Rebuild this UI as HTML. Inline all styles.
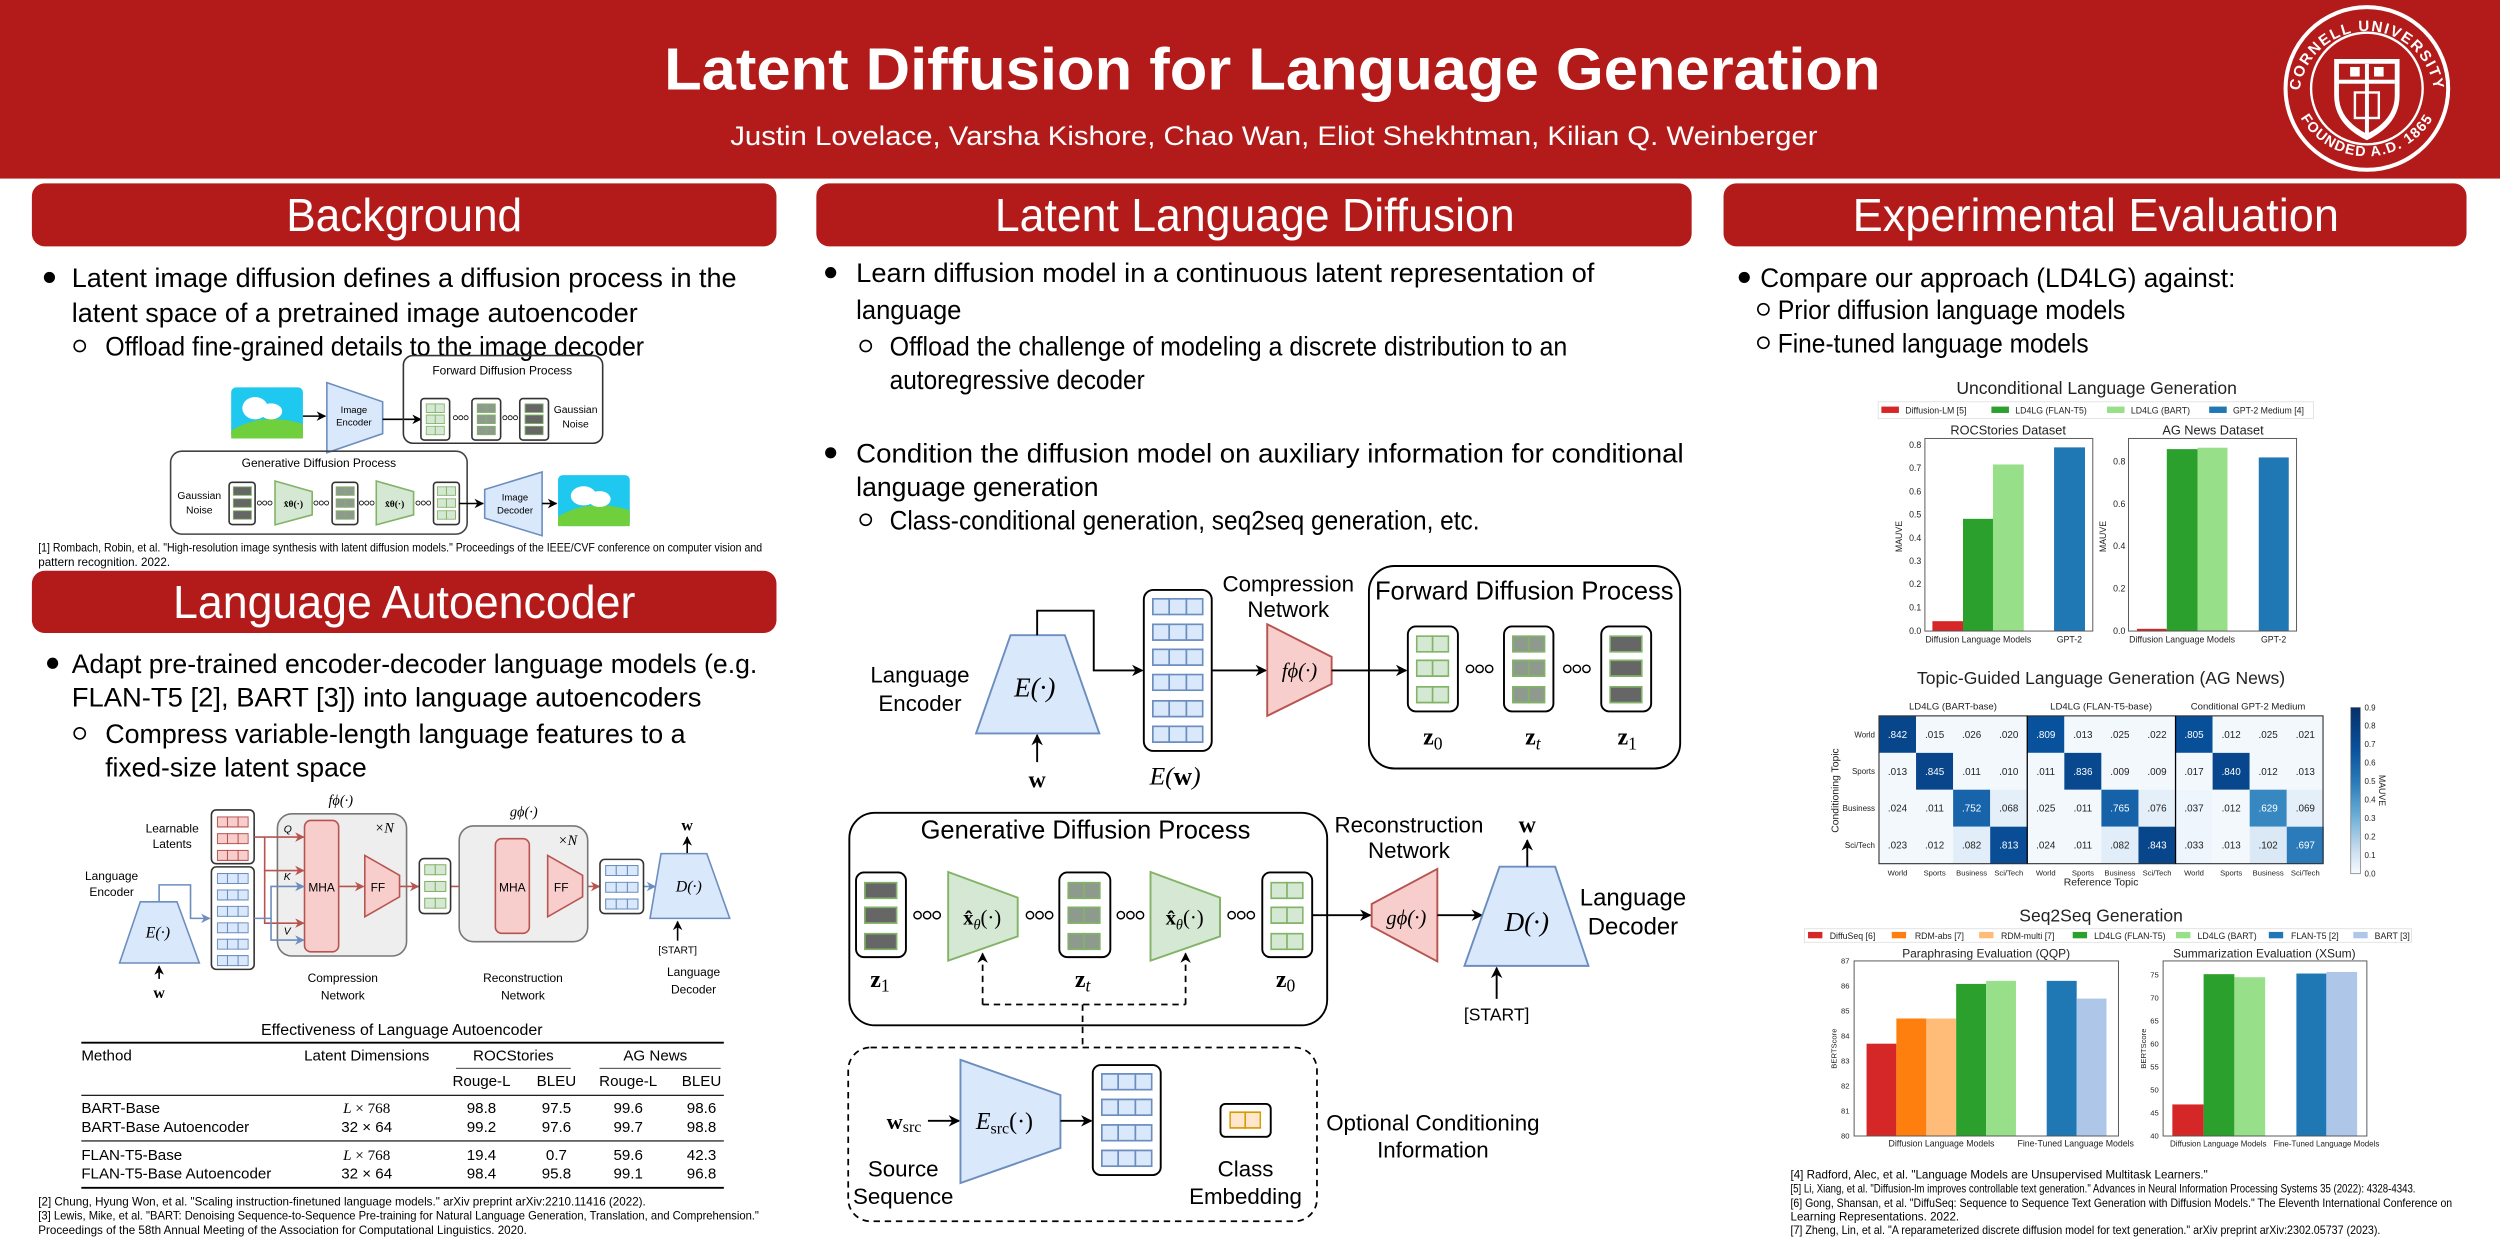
<!DOCTYPE html>
<html><head><meta charset="utf-8"><style>
html,body{margin:0;padding:0;background:#fff;}
svg{display:block;}
text{font-family:"Liberation Sans",sans-serif;}
.m{font-family:"Liberation Serif",serif;font-style:italic;}
.b{font-family:"Liberation Serif",serif;font-weight:bold;}
.t{font-family:"Liberation Serif",serif;}
</style></head><body>
<svg width="2500" height="1250" viewBox="0 0 1568 784" preserveAspectRatio="none" xmlns="http://www.w3.org/2000/svg">
<defs>
<marker id="ah" viewBox="0 0 10 10" refX="9" refY="5" markerWidth="6" markerHeight="6" orient="auto"><path d="M0,0 L10,5 L0,10 L3,5z" fill="#000"/></marker>
<marker id="ahr" viewBox="0 0 10 10" refX="9" refY="5" markerWidth="6" markerHeight="6" orient="auto"><path d="M0,0 L10,5 L0,10 L3,5z" fill="#b85450"/></marker>
<marker id="ahb" viewBox="0 0 10 10" refX="9" refY="5" markerWidth="6" markerHeight="6" orient="auto"><path d="M0,0 L10,5 L0,10 L3,5z" fill="#6c8ebf"/></marker>
<symbol id="b3" viewBox="0 0 30 10" preserveAspectRatio="none"><rect x="0.5" y="0.5" width="29" height="9" fill="#dae8fc" stroke="#6c8ebf"/><path d="M10,0V10M20,0V10" stroke="#6c8ebf"/></symbol>
<symbol id="r3" viewBox="0 0 30 10" preserveAspectRatio="none"><rect x="0.5" y="0.5" width="29" height="9" fill="#f8cecc" stroke="#b85450"/><path d="M10,0V10M20,0V10" stroke="#b85450"/></symbol>
<symbol id="g2" viewBox="0 0 20 10" preserveAspectRatio="none"><rect x="0.5" y="0.5" width="19" height="9" fill="#d5e8d4" stroke="#82b366"/><path d="M10,0V10" stroke="#82b366"/></symbol>
<symbol id="k2" viewBox="0 0 20 10" preserveAspectRatio="none"><rect x="0.5" y="0.5" width="19" height="9" fill="#8f9a8f" stroke="#82b366"/><path d="M10,0V10" stroke="#82b366"/></symbol>
<symbol id="d1" viewBox="0 0 20 10" preserveAspectRatio="none"><rect x="0.5" y="0.5" width="19" height="9" fill="#666" stroke="#82b366"/></symbol>
<symbol id="o2" viewBox="0 0 20 10" preserveAspectRatio="none"><rect x="0.5" y="0.5" width="19" height="9" fill="#ffe6cc" stroke="#d79b00"/><path d="M10,0V10" stroke="#d79b00"/></symbol>
<symbol id="ooo" viewBox="0 0 18 6"><circle cx="3" cy="3" r="2.3" fill="none" stroke="#000" stroke-width="0.9"/><circle cx="9" cy="3" r="2.3" fill="none" stroke="#000" stroke-width="0.9"/><circle cx="15" cy="3" r="2.3" fill="none" stroke="#000" stroke-width="0.9"/></symbol>
<linearGradient id="cb" x1="0" y1="0" x2="0" y2="1"><stop offset="0" stop-color="#08306b"/><stop offset="0.25" stop-color="#08519c"/><stop offset="0.45" stop-color="#2b7bba"/><stop offset="0.65" stop-color="#6aaed6"/><stop offset="0.85" stop-color="#c6dbef"/><stop offset="1" stop-color="#f7fbff"/></linearGradient>
<path id="arcTop" d="M1442,62 A42.5,42.5 0 0 1 1527,62"/>
<path id="arcBot" d="M1436.5,50 A48,48 0 0 0 1532.5,50"/>
</defs>

<!-- Header -->
<rect x="0" y="0" width="1568" height="112" fill="#B31B1B"/>
<text x="798" y="56" text-anchor="middle" font-size="37" font-weight="bold" fill="#fff" textLength="763" lengthAdjust="spacingAndGlyphs">Latent Diffusion for Language Generation</text>
<text x="799" y="91" text-anchor="middle" font-size="17" fill="#fff" textLength="682" lengthAdjust="spacingAndGlyphs">Justin Lovelace, Varsha Kishore, Chao Wan, Eliot Shekhtman, Kilian Q. Weinberger</text>
<g>
<circle cx="1484.5" cy="55.5" r="51" fill="#B31B1B" stroke="#fff" stroke-width="2.5"/>
<circle cx="1484.5" cy="55.5" r="35" fill="none" stroke="#fff" stroke-width="1.5"/>
<path d="M1464,37 H1505 V60 Q1505,78 1484.5,88 Q1464,78 1464,60Z" fill="#fff"/>
<path d="M1467,40 H1502 V60 Q1502,75 1484.5,84 Q1467,75 1467,60Z" fill="#B31B1B"/>
<rect x="1467" y="50" width="35" height="2.5" fill="#fff"/>
<rect x="1483.3" y="40" width="2.5" height="44" fill="#fff"/>
<rect x="1474" y="42" width="6" height="6" fill="#fff"/><rect x="1489" y="42" width="6" height="6" fill="#fff"/>
<rect x="1477" y="58" width="15" height="16" fill="none" stroke="#fff" stroke-width="1.5"/>
<text font-size="9.5" font-weight="bold" fill="#fff" letter-spacing="1"><textPath href="#arcTop" startOffset="50%" text-anchor="middle">CORNELL UNIVERSITY</textPath></text>
<text font-size="9" font-weight="bold" fill="#fff" letter-spacing="0.8"><textPath href="#arcBot" startOffset="50%" text-anchor="middle">FOUNDED A.D. 1865</textPath></text>
</g>

<!-- Section headers -->
<rect x="20" y="115" width="467" height="39.5" rx="8" fill="#B31B1B"/>
<text x="253.5" y="145" text-anchor="middle" font-size="29" fill="#fff" textLength="148" lengthAdjust="spacingAndGlyphs">Background</text>
<rect x="512" y="115" width="549" height="39.5" rx="8" fill="#B31B1B"/>
<text x="787" y="145" text-anchor="middle" font-size="29" fill="#fff" textLength="326" lengthAdjust="spacingAndGlyphs">Latent Language Diffusion</text>
<rect x="1081" y="115" width="466" height="39.5" rx="8" fill="#B31B1B"/>
<text x="1314.5" y="145" text-anchor="middle" font-size="29" fill="#fff" textLength="305" lengthAdjust="spacingAndGlyphs">Experimental Evaluation</text>
<rect x="20" y="358" width="467" height="39" rx="8" fill="#B31B1B"/>
<text x="253.5" y="387.5" text-anchor="middle" font-size="29" fill="#fff" textLength="290" lengthAdjust="spacingAndGlyphs">Language Autoencoder</text>

<!-- Background text -->
<g font-size="17">
<circle cx="31" cy="174" r="3.5"/>
<text x="45" y="180" textLength="417" lengthAdjust="spacingAndGlyphs">Latent image diffusion defines a diffusion process in the</text>
<text x="45" y="202" textLength="355" lengthAdjust="spacingAndGlyphs">latent space of a pretrained image autoencoder</text>
<circle cx="50" cy="217" r="3.5" fill="none" stroke="#000" stroke-width="1"/>
<text x="66" y="223" textLength="338" lengthAdjust="spacingAndGlyphs">Offload fine-grained details to the image decoder</text>
</g>

<!-- Background diagram -->
<g>
<rect x="145" y="243" width="45" height="32" rx="3" fill="#1ec8ee"/>
<path d="M145,270 Q165,258 190,266 V275 H145Z" fill="#6fcf3c"/>
<ellipse cx="160" cy="256" rx="8" ry="7" fill="#fff"/><ellipse cx="170" cy="258" rx="7" ry="5" fill="#fff"/>
<line x1="190" y1="261" x2="204" y2="261" stroke="#000" marker-end="url(#ah)"/>
<path d="M205,240 L240,252 V272 L205,284Z" fill="#dae8fc" stroke="#6c8ebf"/>
<text x="222" y="259" font-size="6" text-anchor="middle">Image</text><text x="222" y="267" font-size="6" text-anchor="middle">Encoder</text>
<line x1="240" y1="263" x2="264" y2="263" stroke="#000" marker-end="url(#ah)"/>
<rect x="253" y="223" width="125" height="55" rx="6" fill="none" stroke="#333"/>
<text x="315" y="235" font-size="7.5" text-anchor="middle">Forward Diffusion Process</text>
<rect x="264" y="250" width="18" height="26" rx="2" fill="#fff" stroke="#333"/>
<use href="#g2" x="267" y="253" width="12" height="6"/><use href="#g2" x="267" y="260" width="12" height="6"/><use href="#g2" x="267" y="267" width="12" height="6"/>
<use href="#ooo" x="284" y="260" width="10" height="4"/>
<rect x="296" y="250" width="18" height="26" rx="2" fill="#fff" stroke="#333"/>
<use href="#k2" x="299" y="253" width="12" height="6"/><use href="#k2" x="299" y="260" width="12" height="6"/><use href="#k2" x="299" y="267" width="12" height="6"/>
<use href="#ooo" x="315" y="260" width="10" height="4"/>
<rect x="326" y="250" width="18" height="26" rx="2" fill="#fff" stroke="#333"/>
<use href="#d1" x="329" y="253" width="12" height="6"/><use href="#d1" x="329" y="260" width="12" height="6"/><use href="#d1" x="329" y="267" width="12" height="6"/>
<text x="361" y="259" font-size="6.5" text-anchor="middle">Gaussian</text><text x="361" y="268" font-size="6.5" text-anchor="middle">Noise</text>
<rect x="107" y="283" width="186" height="52" rx="7" fill="none" stroke="#444"/>
<text x="200" y="293" font-size="7.5" text-anchor="middle">Generative Diffusion Process</text>
<text x="125" y="313" font-size="6.5" text-anchor="middle">Gaussian</text><text x="125" y="322" font-size="6.5" text-anchor="middle">Noise</text>
<rect x="143.7" y="302.5" width="16.3" height="26.5" rx="2" fill="#fff" stroke="#333"/>
<use href="#d1" x="146" y="305" width="12" height="6"/><use href="#d1" x="146" y="312.5" width="12" height="6"/><use href="#d1" x="146" y="320" width="12" height="6"/>
<use href="#ooo" x="161" y="313.5" width="10" height="4"/>
<path d="M172.5,301.7 L195.8,308.3 V322.9 L172.5,329.2Z" fill="#d5e8d4" stroke="#82b366"/>
<text x="184" y="318" font-size="6" class="b" text-anchor="middle">x̂θ(·)</text>
<use href="#ooo" x="196.5" y="313.5" width="10" height="4"/>
<rect x="208.3" y="302.5" width="16.1" height="26.5" rx="2" fill="#fff" stroke="#333"/>
<use href="#k2" x="210.5" y="305" width="12" height="6"/><use href="#k2" x="210.5" y="312.5" width="12" height="6"/><use href="#k2" x="210.5" y="320" width="12" height="6"/>
<use href="#ooo" x="225" y="313.5" width="10" height="4"/>
<path d="M236,301.7 L259.4,308.3 V322.9 L236,329.2Z" fill="#d5e8d4" stroke="#82b366"/>
<text x="247.5" y="318" font-size="6" class="b" text-anchor="middle">x̂θ(·)</text>
<use href="#ooo" x="260.5" y="313.5" width="10" height="4"/>
<rect x="271.9" y="302.5" width="16.2" height="26.5" rx="2" fill="#fff" stroke="#333"/>
<use href="#g2" x="274" y="305" width="12" height="6"/><use href="#g2" x="274" y="312.5" width="12" height="6"/><use href="#g2" x="274" y="320" width="12" height="6"/>
<line x1="288" y1="315.8" x2="303" y2="315.8" stroke="#000" marker-end="url(#ah)"/>
<path d="M304,307 L340,296 V336 L304,325Z" fill="#dae8fc" stroke="#6c8ebf"/>
<text x="323" y="314" font-size="6" text-anchor="middle">Image</text><text x="323" y="322" font-size="6" text-anchor="middle">Decoder</text>
<line x1="340" y1="315.8" x2="349" y2="315.8" stroke="#000" marker-end="url(#ah)"/>
<rect x="350" y="298" width="45" height="32" rx="3" fill="#1ec8ee"/>
<path d="M350,324 Q370,312 395,320 V330 H350Z" fill="#6fcf3c"/>
<ellipse cx="366" cy="311" rx="8" ry="6" fill="#fff"/><ellipse cx="376" cy="313" rx="7" ry="5" fill="#fff"/>
</g>
<g font-size="7.3">
<text x="24" y="346" textLength="454" lengthAdjust="spacingAndGlyphs">[1] Rombach, Robin, et al. "High-resolution image synthesis with latent diffusion models." Proceedings of the IEEE/CVF conference on computer vision and</text>
<text x="24" y="355">pattern recognition. 2022.</text>
</g>

<!-- Language Autoencoder text -->
<g font-size="17">
<circle cx="33" cy="416" r="3.5"/>
<text x="45" y="422" textLength="430" lengthAdjust="spacingAndGlyphs">Adapt pre-trained encoder-decoder language models (e.g.</text>
<text x="45" y="443" textLength="395" lengthAdjust="spacingAndGlyphs">FLAN-T5 [2], BART [3]) into language autoencoders</text>
<circle cx="50" cy="460" r="3.5" fill="none" stroke="#000" stroke-width="1"/>
<text x="66" y="466" textLength="364" lengthAdjust="spacingAndGlyphs">Compress variable-length language features to a</text>
<text x="66" y="487" textLength="164" lengthAdjust="spacingAndGlyphs">fixed-size latent space</text>
</g>

<!-- LA diagram -->
<g font-size="7.5">
<text x="213.7" y="505" class="m" font-size="9" text-anchor="middle">fϕ(·)</text>
<text x="108" y="522" text-anchor="middle">Learnable</text><text x="108" y="532" text-anchor="middle">Latents</text>
<text x="70" y="552" text-anchor="middle">Language</text><text x="70" y="562" text-anchor="middle">Encoder</text>
<rect x="174" y="510.4" width="81" height="89.2" rx="9" fill="#eee" stroke="#777"/>
<text x="241" y="522" class="m" font-size="9" text-anchor="middle">×N</text>
<rect x="191" y="514.6" width="21.4" height="82.4" rx="4" fill="#f8cecc" stroke="#b85450"/>
<text x="201.7" y="559" text-anchor="middle" font-size="7.5">MHA</text>
<path d="M228.8,536.5 L250.6,549 V562.5 L228.8,575Z" fill="#f8cecc" stroke="#b85450"/>
<text x="237" y="559" text-anchor="middle">FF</text>
<rect x="132.6" y="508" width="26.8" height="33.7" rx="3" fill="#fff" stroke="#333"/>
<use href="#r3" x="136" y="512" width="20" height="7"/><use href="#r3" x="136" y="522.5" width="20" height="7"/><use href="#r3" x="136" y="533" width="20" height="7"/>
<rect x="132.6" y="543.7" width="26.8" height="64.3" rx="3" fill="#fff" stroke="#333"/>
<use href="#b3" x="136" y="547.5" width="20" height="7"/><use href="#b3" x="136" y="557.8" width="20" height="7"/><use href="#b3" x="136" y="568.1" width="20" height="7"/><use href="#b3" x="136" y="578.4" width="20" height="7"/><use href="#b3" x="136" y="588.7" width="20" height="7"/><use href="#b3" x="136" y="599" width="20" height="7"/>
<path d="M88,565.6 L111,565.6 L125,604 L75,604Z" fill="#dae8fc" stroke="#6c8ebf"/>
<text x="99" y="588" class="m" font-size="10" text-anchor="middle">E(·)</text>
<line x1="99.8" y1="614" x2="99.8" y2="606" stroke="#000" marker-end="url(#ah)"/>
<text x="99.8" y="626" class="b" font-size="10" text-anchor="middle">w</text>
<polyline points="99.8,565.6 99.8,555 119.5,555 119.5,576 131.5,576" fill="none" stroke="#6c8ebf" marker-end="url(#ahb)"/>
<g stroke="#b85450" fill="none">
<line x1="159.4" y1="525" x2="190.5" y2="525" marker-end="url(#ahr)"/>
<polyline points="166,525 166,546 190.5,546" marker-end="url(#ahr)"/>
<polyline points="166,546 166,579 190.5,579" marker-end="url(#ahr)"/>
<line x1="212.4" y1="556" x2="228" y2="556" marker-end="url(#ahr)"/>
<line x1="250.6" y1="556" x2="262.5" y2="556" marker-end="url(#ahr)"/>
<line x1="282.6" y1="556" x2="310" y2="556" marker-end="url(#ahr)"/>
<polyline points="300,556 300,541 310,541" marker-end="url(#ahr)"/>
<polyline points="300,556 300,572 310,572" marker-end="url(#ahr)"/>
<line x1="332" y1="556" x2="343" y2="556" marker-end="url(#ahr)"/>
<line x1="365.4" y1="556" x2="376" y2="556" marker-end="url(#ahr)"/>
</g>
<g stroke="#6c8ebf" fill="none">
<polyline points="159.4,576 170,576 170,556 190.5,556" marker-end="url(#ahb)"/>
<polyline points="170,576 170,589.6 190.5,589.6" marker-end="url(#ahb)"/>
<line x1="403.6" y1="556" x2="411" y2="556" marker-end="url(#ahb)"/>
</g>
<g class="m" font-size="6.5"><text x="178" y="522">Q</text><text x="178" y="552">K</text><text x="178" y="586">V</text><text x="296" y="537">Q</text><text x="296" y="552">K</text><text x="296" y="568">V</text></g>
<rect x="263" y="538.5" width="19.6" height="34.5" rx="3" fill="#fff" stroke="#333"/>
<use href="#g2" x="266" y="542" width="14" height="7"/><use href="#g2" x="266" y="552.5" width="14" height="7"/><use href="#g2" x="266" y="563" width="14" height="7"/>
<text x="328.5" y="512" class="m" font-size="9" text-anchor="middle">gϕ(·)</text>
<rect x="288" y="518" width="80.6" height="72.6" rx="9" fill="#eee" stroke="#777"/>
<text x="356" y="530" class="m" font-size="9" text-anchor="middle">×N</text>
<rect x="310.7" y="526" width="21.3" height="59.4" rx="4" fill="#f8cecc" stroke="#b85450"/>
<text x="321.3" y="559" text-anchor="middle">MHA</text>
<path d="M343.5,536.5 L365.4,549 V562.5 L343.5,575Z" fill="#f8cecc" stroke="#b85450"/>
<text x="352" y="559" text-anchor="middle">FF</text>
<rect x="376.3" y="539" width="27.3" height="34" rx="3" fill="#fff" stroke="#333"/>
<use href="#b3" x="379.5" y="542.5" width="21" height="7"/><use href="#b3" x="379.5" y="553" width="21" height="7"/><use href="#b3" x="379.5" y="563.5" width="21" height="7"/>
<path d="M414.6,535.4 L443.3,535.4 L457.7,576 L407.7,576Z" fill="#dae8fc" stroke="#6c8ebf"/>
<text x="432" y="559" class="m" font-size="10" text-anchor="middle">D(·)</text>
<line x1="431" y1="535" x2="431" y2="525" stroke="#000" marker-end="url(#ah)"/>
<text x="431" y="521" class="b" font-size="10" text-anchor="middle">w</text>
<line x1="425" y1="590" x2="425" y2="578" stroke="#000" marker-end="url(#ah)"/>
<text x="425" y="598" font-size="6.5" text-anchor="middle">[START]</text>
<text x="215" y="616" text-anchor="middle">Compression</text><text x="215" y="627" text-anchor="middle">Network</text>
<text x="328" y="616" text-anchor="middle">Reconstruction</text><text x="328" y="627" text-anchor="middle">Network</text>
<text x="435" y="612" text-anchor="middle">Language</text><text x="435" y="623" text-anchor="middle">Decoder</text>
</g>

<!-- Table -->
<g class="t" font-size="9.5">
<text x="252" y="649" text-anchor="middle" font-size="10">Effectiveness of Language Autoencoder</text>
<line x1="51" y1="654" x2="454" y2="654" stroke="#000" stroke-width="1.2"/>
<text x="51" y="665">Method</text>
<text x="230" y="665" text-anchor="middle">Latent Dimensions</text>
<text x="322" y="665" text-anchor="middle">ROCStories</text>
<text x="411" y="665" text-anchor="middle">AG News</text>
<line x1="286" y1="670" x2="358" y2="670" stroke="#000" stroke-width="0.5"/>
<line x1="376" y1="670" x2="452" y2="670" stroke="#000" stroke-width="0.5"/>
<text x="302" y="681" text-anchor="middle">Rouge-L</text><text x="349" y="681" text-anchor="middle">BLEU</text>
<text x="394" y="681" text-anchor="middle">Rouge-L</text><text x="440" y="681" text-anchor="middle">BLEU</text>
<line x1="51" y1="687" x2="454" y2="687" stroke="#000" stroke-width="0.7"/>
<text x="51" y="698">BART-Base</text><text x="230" y="698" text-anchor="middle" class="m">L<tspan class="t" font-style="normal"> × 768</tspan></text>
<text x="302" y="698" text-anchor="middle">98.8</text><text x="349" y="698" text-anchor="middle">97.5</text><text x="394" y="698" text-anchor="middle">99.6</text><text x="440" y="698" text-anchor="middle">98.6</text>
<text x="51" y="710">BART-Base Autoencoder</text><text x="230" y="710" text-anchor="middle">32 × 64</text>
<text x="302" y="710" text-anchor="middle">99.2</text><text x="349" y="710" text-anchor="middle">97.6</text><text x="394" y="710" text-anchor="middle">99.7</text><text x="440" y="710" text-anchor="middle">98.8</text>
<line x1="51" y1="715.6" x2="454" y2="715.6" stroke="#000" stroke-width="0.7"/>
<text x="51" y="727.5">FLAN-T5-Base</text><text x="230" y="727.5" text-anchor="middle" class="m">L<tspan class="t" font-style="normal"> × 768</tspan></text>
<text x="302" y="727.5" text-anchor="middle">19.4</text><text x="349" y="727.5" text-anchor="middle">0.7</text><text x="394" y="727.5" text-anchor="middle">59.6</text><text x="440" y="727.5" text-anchor="middle">42.3</text>
<text x="51" y="739">FLAN-T5-Base Autoencoder</text><text x="230" y="739" text-anchor="middle">32 × 64</text>
<text x="302" y="739" text-anchor="middle">98.4</text><text x="349" y="739" text-anchor="middle">95.8</text><text x="394" y="739" text-anchor="middle">99.1</text><text x="440" y="739" text-anchor="middle">96.8</text>
<line x1="51" y1="745" x2="454" y2="745" stroke="#000" stroke-width="1.2"/>
</g>
<g font-size="7.3">
<text x="24" y="756">[2] Chung, Hyung Won, et al. "Scaling instruction-finetuned language models." arXiv preprint arXiv:2210.11416 (2022).</text>
<text x="24" y="765" textLength="452" lengthAdjust="spacingAndGlyphs">[3] Lewis, Mike, et al. "BART: Denoising Sequence-to-Sequence Pre-training for Natural Language Generation, Translation, and Comprehension."</text>
<text x="24" y="774">Proceedings of the 58th Annual Meeting of the Association for Computational Linguistics. 2020.</text>
</g>

<!-- Middle text -->
<g font-size="17">
<circle cx="521" cy="171" r="3.5"/>
<text x="537" y="177" textLength="463" lengthAdjust="spacingAndGlyphs">Learn diffusion model in a continuous latent representation of</text>
<text x="537" y="200" textLength="66" lengthAdjust="spacingAndGlyphs">language</text>
<circle cx="543" cy="217" r="3.5" fill="none" stroke="#000" stroke-width="1"/>
<text x="558" y="223" textLength="425" lengthAdjust="spacingAndGlyphs">Offload the challenge of modeling a discrete distribution to an</text>
<text x="558" y="244" textLength="160" lengthAdjust="spacingAndGlyphs">autoregressive decoder</text>
<circle cx="521" cy="284" r="3.5"/>
<text x="537" y="290" textLength="519" lengthAdjust="spacingAndGlyphs">Condition the diffusion model on auxiliary information for conditional</text>
<text x="537" y="311" textLength="152" lengthAdjust="spacingAndGlyphs">language generation</text>
<circle cx="543" cy="326" r="3.5" fill="none" stroke="#000" stroke-width="1"/>
<text x="558" y="332" textLength="370" lengthAdjust="spacingAndGlyphs">Class-conditional generation, seq2seq generation, etc.</text>
</g>

<!-- Middle diagram -->
<g font-size="14">
<text x="577" y="428" text-anchor="middle">Language</text><text x="577" y="446" text-anchor="middle">Encoder</text>
<path d="M633.8,398.4 L667.9,398.4 L689.5,460 L612.2,460Z" fill="#dae8fc" stroke="#6c8ebf" stroke-width="1.2"/>
<text x="649" y="437" class="m" font-size="17" text-anchor="middle">E(·)</text>
<line x1="650.5" y1="478" x2="650.5" y2="461" stroke="#000" stroke-width="1.2" marker-end="url(#ah)"/>
<text x="650.5" y="494" class="b" font-size="15" text-anchor="middle">w</text>
<polyline points="650.5,398.4 650.5,383 686,383 686,420.5 716.5,420.5" fill="none" stroke="#000" stroke-width="1.2" marker-end="url(#ah)"/>
<rect x="717.4" y="370" width="42.6" height="101" rx="6" fill="#fff" stroke="#000" stroke-width="1.2"/>
<use href="#b3" x="722.5" y="375" width="32.4" height="11"/><use href="#b3" x="722.5" y="391" width="32.4" height="11"/><use href="#b3" x="722.5" y="406.7" width="32.4" height="11"/><use href="#b3" x="722.5" y="422.5" width="32.4" height="11"/><use href="#b3" x="722.5" y="439" width="32.4" height="11"/><use href="#b3" x="722.5" y="455" width="32.4" height="11"/>
<text x="737" y="492" class="m" font-size="16" text-anchor="middle">E(<tspan class="b" font-style="normal">w</tspan>)</text>
<line x1="760" y1="420.5" x2="794" y2="420.5" stroke="#000" stroke-width="1.2" marker-end="url(#ah)"/>
<text x="808" y="371" text-anchor="middle">Compression</text><text x="808" y="387" text-anchor="middle">Network</text>
<path d="M794.8,391.5 L835.2,412 V429 L794.8,449Z" fill="#f8cecc" stroke="#b85450" stroke-width="1.2"/>
<text x="815" y="425" class="m" font-size="13" text-anchor="middle">fϕ(·)</text>
<line x1="835.2" y1="420.5" x2="882" y2="420.5" stroke="#000" stroke-width="1.2" marker-end="url(#ah)"/>
<rect x="858.6" y="355" width="195.2" height="127" rx="16" fill="none" stroke="#000" stroke-width="1.2"/>
<text x="956" y="376" text-anchor="middle" font-size="16">Forward Diffusion Process</text>
<rect x="883" y="392.9" width="31.4" height="53.3" rx="5" fill="#fff" stroke="#000" stroke-width="1.2"/>
<use href="#g2" x="888" y="398.4" width="21" height="11"/><use href="#g2" x="888" y="413.6" width="21" height="11"/><use href="#g2" x="888" y="430.2" width="21" height="11"/>
<use href="#ooo" x="919" y="416.5" width="18" height="6"/>
<rect x="943.3" y="392.9" width="31" height="53.3" rx="5" fill="#fff" stroke="#000" stroke-width="1.2"/>
<use href="#k2" x="948.3" y="398.4" width="21" height="11"/><use href="#k2" x="948.3" y="413.6" width="21" height="11"/><use href="#k2" x="948.3" y="430.2" width="21" height="11"/>
<use href="#ooo" x="980" y="416.5" width="18" height="6"/>
<rect x="1004.3" y="392.9" width="31.3" height="53.3" rx="5" fill="#fff" stroke="#000" stroke-width="1.2"/>
<use href="#d1" x="1009.3" y="398.4" width="21" height="11"/><use href="#d1" x="1009.3" y="413.6" width="21" height="11"/><use href="#d1" x="1009.3" y="430.2" width="21" height="11"/>
<text x="898.7" y="467" class="b" font-size="15" text-anchor="middle">z<tspan class="t" font-weight="normal" font-size="11" dy="3">0</tspan></text>
<text x="961.4" y="467" class="b" font-size="15" text-anchor="middle">z<tspan class="m" font-weight="normal" font-size="11" dy="3">t</tspan></text>
<text x="1020.6" y="467" class="b" font-size="15" text-anchor="middle">z<tspan class="t" font-weight="normal" font-size="11" dy="3">1</tspan></text>

<rect x="532.7" y="509.8" width="299.7" height="133.3" rx="16" fill="none" stroke="#000" stroke-width="1.2"/>
<text x="680.8" y="526" text-anchor="middle" font-size="16">Generative Diffusion Process</text>
<rect x="536.9" y="547.2" width="31.3" height="53.1" rx="5" fill="#fff" stroke="#000" stroke-width="1.2"/>
<use href="#d1" x="541.9" y="553" width="21" height="11"/><use href="#d1" x="541.9" y="568.5" width="21" height="11"/><use href="#d1" x="541.9" y="585" width="21" height="11"/>
<use href="#ooo" x="572.5" y="571" width="18" height="6"/>
<path d="M594.7,546.9 L638.3,563 V587.3 L594.7,602.5Z" fill="#d5e8d4" stroke="#82b366" stroke-width="1.2"/>
<text x="616" y="580" class="b" font-size="13" text-anchor="middle">x̂<tspan class="m" font-weight="normal" font-size="9" dy="3">θ</tspan><tspan class="t" font-weight="normal" dy="-3">(·)</tspan></text>
<use href="#ooo" x="643" y="571" width="18" height="6"/>
<rect x="664.4" y="547.2" width="32" height="53.1" rx="5" fill="#fff" stroke="#000" stroke-width="1.2"/>
<use href="#k2" x="669.4" y="553" width="21" height="11"/><use href="#k2" x="669.4" y="568.5" width="21" height="11"/><use href="#k2" x="669.4" y="585" width="21" height="11"/>
<use href="#ooo" x="700" y="571" width="18" height="6"/>
<path d="M721.6,546.9 L765.2,563 V587.3 L721.6,602.5Z" fill="#d5e8d4" stroke="#82b366" stroke-width="1.2"/>
<text x="743" y="580" class="b" font-size="13" text-anchor="middle">x̂<tspan class="m" font-weight="normal" font-size="9" dy="3">θ</tspan><tspan class="t" font-weight="normal" dy="-3">(·)</tspan></text>
<use href="#ooo" x="769.5" y="571" width="18" height="6"/>
<rect x="791.7" y="547.2" width="31.3" height="53.1" rx="5" fill="#fff" stroke="#000" stroke-width="1.2"/>
<use href="#g2" x="796.7" y="553" width="21" height="11"/><use href="#g2" x="796.7" y="568.5" width="21" height="11"/><use href="#g2" x="796.7" y="585" width="21" height="11"/>
<text x="551.9" y="619" class="b" font-size="15" text-anchor="middle">z<tspan class="t" font-weight="normal" font-size="11" dy="3">1</tspan></text>
<text x="679" y="619" class="b" font-size="15" text-anchor="middle">z<tspan class="m" font-weight="normal" font-size="11" dy="3">t</tspan></text>
<text x="806.3" y="619" class="b" font-size="15" text-anchor="middle">z<tspan class="t" font-weight="normal" font-size="11" dy="3">0</tspan></text>
<g stroke="#000" stroke-width="1.1" fill="none" stroke-dasharray="4,3">
<polyline points="616.3,630 616.3,598" marker-end="url(#ah)"/>
<polyline points="743.6,630 743.6,598" marker-end="url(#ah)"/>
<line x1="616.3" y1="630" x2="743.6" y2="630"/>
<line x1="679" y1="630" x2="679" y2="657"/>
</g>
<line x1="823" y1="574" x2="859.5" y2="574" stroke="#000" stroke-width="1.2" marker-end="url(#ah)"/>
<text x="883.7" y="522" text-anchor="middle">Reconstruction</text><text x="883.7" y="538" text-anchor="middle">Network</text>
<path d="M860.3,567 L901.5,545 V603 L860.3,581Z" fill="#f8cecc" stroke="#b85450" stroke-width="1.2"/>
<text x="882" y="580" class="m" font-size="13" text-anchor="middle">gϕ(·)</text>
<line x1="901.5" y1="574" x2="929.5" y2="574" stroke="#000" stroke-width="1.2" marker-end="url(#ah)"/>
<path d="M940.5,543.6 L975.4,543.6 L996.3,605.8 L918.5,605.8Z" fill="#dae8fc" stroke="#6c8ebf" stroke-width="1.2"/>
<text x="957.6" y="584" class="m" font-size="17" text-anchor="middle">D(·)</text>
<line x1="957.9" y1="543.6" x2="957.9" y2="527" stroke="#000" stroke-width="1.2" marker-end="url(#ah)"/>
<text x="957.9" y="522" class="b" font-size="15" text-anchor="middle">w</text>
<line x1="938.7" y1="626.5" x2="938.7" y2="607" stroke="#000" stroke-width="1.2" marker-end="url(#ah)"/>
<text x="938.7" y="640" text-anchor="middle" font-size="11">[START]</text>
<text x="1024.2" y="568" text-anchor="middle" font-size="15">Language</text><text x="1024.2" y="586" text-anchor="middle" font-size="15">Decoder</text>

<rect x="532" y="657" width="294" height="109" rx="14" fill="none" stroke="#000" stroke-width="1.1" stroke-dasharray="4,3"/>
<text x="567" y="708" class="b" font-size="14" text-anchor="middle">w<tspan class="t" font-weight="normal" font-size="10" dy="2">src</tspan></text>
<line x1="582" y1="703" x2="601.5" y2="703" stroke="#000" stroke-width="1.2" marker-end="url(#ah)"/>
<path d="M602.4,664.7 L665.1,686.8 V720 L602.4,742Z" fill="#dae8fc" stroke="#6c8ebf" stroke-width="1.2"/>
<text x="630" y="708" class="m" font-size="15" text-anchor="middle">E<tspan font-size="10" dy="3" class="t" font-style="normal">src</tspan><tspan class="t" font-style="normal" dy="-3">(·)</tspan></text>
<line x1="665.1" y1="703" x2="684.5" y2="703" stroke="#000" stroke-width="1.2" marker-end="url(#ah)"/>
<rect x="685.4" y="668" width="42.6" height="69" rx="5" fill="#fff" stroke="#000" stroke-width="1.2"/>
<use href="#b3" x="690.5" y="673" width="32.4" height="11"/><use href="#b3" x="690.5" y="689" width="32.4" height="11"/><use href="#b3" x="690.5" y="705" width="32.4" height="11"/><use href="#b3" x="690.5" y="721" width="32.4" height="11"/>
<rect x="765.5" y="692.4" width="31.5" height="20.6" rx="3" fill="#fff" stroke="#000" stroke-width="1.2"/>
<use href="#o2" x="771" y="697" width="20" height="11"/>
<text x="566.5" y="738" text-anchor="middle">Source</text><text x="566.5" y="755" text-anchor="middle">Sequence</text>
<text x="781.2" y="738" text-anchor="middle">Class</text><text x="781.2" y="755" text-anchor="middle">Embedding</text>
<text x="898.7" y="709" text-anchor="middle">Optional Conditioning</text><text x="898.7" y="726" text-anchor="middle">Information</text>
</g>

<!-- Right text -->
<g font-size="17">
<circle cx="1094" cy="174" r="3.5"/>
<text x="1104" y="180" textLength="298" lengthAdjust="spacingAndGlyphs">Compare our approach (LD4LG) against:</text>
<circle cx="1106" cy="194" r="3.5" fill="none" stroke="#000" stroke-width="1"/>
<text x="1115" y="200" textLength="218" lengthAdjust="spacingAndGlyphs">Prior diffusion language models</text>
<circle cx="1106" cy="215" r="3.5" fill="none" stroke="#000" stroke-width="1"/>
<text x="1115" y="221" textLength="195" lengthAdjust="spacingAndGlyphs">Fine-tuned language models</text>
</g>

<!-- Unconditional chart -->
<g font-size="5.5" fill="#222">
<text x="1315" y="247" text-anchor="middle" font-size="11">Unconditional Language Generation</text>
<rect x="1178" y="252" width="273" height="10.5" fill="#fff" stroke="#ddd" stroke-width="0.5"/>
<rect x="1180" y="255" width="11" height="4" fill="#d62728"/><text x="1195" y="259.5">Diffusion-LM [5]</text>
<rect x="1249" y="255" width="11" height="4" fill="#2ca02c"/><text x="1264" y="259.5">LD4LG (FLAN-T5)</text>
<rect x="1321.5" y="255" width="11" height="4" fill="#98df8a"/><text x="1336.5" y="259.5">LD4LG (BART)</text>
<rect x="1385.6" y="255" width="11" height="4" fill="#1f77b4"/><text x="1400.5" y="259.5">GPT-2 Medium [4]</text>
<text x="1259.5" y="272.5" text-anchor="middle" font-size="8">ROCStories Dataset</text>
<text x="1388" y="272.5" text-anchor="middle" font-size="8">AG News Dataset</text>
<rect x="1212" y="389.6" width="19.2" height="6.2" fill="#d62728"/>
<rect x="1231.2" y="325.4" width="18.8" height="70.4" fill="#2ca02c"/>
<rect x="1250" y="291.3" width="19.3" height="104.5" fill="#98df8a"/>
<rect x="1288.3" y="280.6" width="19.4" height="115.2" fill="#1f77b4"/>
<rect x="1207.3" y="275" width="105.3" height="120.8" fill="none" stroke="#555" stroke-width="0.6"/>
<g text-anchor="end"><text x="1205" y="397.5">0.0</text><text x="1205" y="382.9">0.1</text><text x="1205" y="368.3">0.2</text><text x="1205" y="353.8">0.3</text><text x="1205" y="339.2">0.4</text><text x="1205" y="324.6">0.5</text><text x="1205" y="310">0.6</text><text x="1205" y="295.4">0.7</text><text x="1205" y="280.9">0.8</text></g>
<text transform="translate(1193,336.5) rotate(-90)" text-anchor="middle">MAUVE</text>
<text x="1240.8" y="403" text-anchor="middle">Diffusion Language Models</text><text x="1297.9" y="403" text-anchor="middle">GPT-2</text>
<rect x="1340.3" y="394.4" width="18.7" height="1.4" fill="#d62728"/>
<rect x="1359" y="281.7" width="19.3" height="114.1" fill="#2ca02c"/>
<rect x="1378.3" y="280.8" width="18.8" height="115" fill="#98df8a"/>
<rect x="1416.7" y="286.9" width="18.8" height="108.9" fill="#1f77b4"/>
<rect x="1335" y="275" width="105.4" height="120.8" fill="none" stroke="#555" stroke-width="0.6"/>
<g text-anchor="end"><text x="1333" y="397.5">0.0</text><text x="1333" y="371">0.2</text><text x="1333" y="344.4">0.4</text><text x="1333" y="317.9">0.6</text><text x="1333" y="291.3">0.8</text></g>
<text transform="translate(1321,336.5) rotate(-90)" text-anchor="middle">MAUVE</text>
<text x="1368.6" y="403" text-anchor="middle">Diffusion Language Models</text><text x="1426" y="403" text-anchor="middle">GPT-2</text>
</g>

<!-- Heatmap -->
<g font-size="6.2" text-anchor="middle">
<text x="1317.8" y="429" font-size="11" fill="#222">Topic-Guided Language Generation (AG News)</text>
<g font-size="6" fill="#222"><text x="1224.9" y="445">LD4LG (BART-base)</text><text x="1317.8" y="445">LD4LG (FLAN-T5-base)</text><text x="1410" y="445">Conditional GPT-2 Medium</text></g>
<rect x="1178.5" y="449" width="23.25" height="23.2" fill="#08468b"/><rect x="1201.75" y="449" width="23.25" height="23.2" fill="#f3f8fd"/><rect x="1225" y="449" width="23.25" height="23.2" fill="#f3f8fd"/><rect x="1248.25" y="449" width="23.25" height="23.2" fill="#f3f8fd"/>
<rect x="1271.5" y="449" width="23.25" height="23.2" fill="#08519c"/><rect x="1294.75" y="449" width="23.25" height="23.2" fill="#f3f8fd"/><rect x="1318" y="449" width="23.25" height="23.2" fill="#f3f8fd"/><rect x="1341.25" y="449" width="23.25" height="23.2" fill="#f3f8fd"/>
<rect x="1364.5" y="449" width="23.25" height="23.2" fill="#084f99"/><rect x="1387.75" y="449" width="23.25" height="23.2" fill="#f3f8fd"/><rect x="1411" y="449" width="23.25" height="23.2" fill="#f3f8fd"/><rect x="1434.25" y="449" width="23.25" height="23.2" fill="#f3f8fd"/>
<rect x="1178.5" y="472.2" width="23.25" height="23.2" fill="#f3f8fd"/><rect x="1201.75" y="472.2" width="23.25" height="23.2" fill="#08458a"/><rect x="1225" y="472.2" width="23.25" height="23.2" fill="#f3f8fd"/><rect x="1248.25" y="472.2" width="23.25" height="23.2" fill="#f3f8fd"/>
<rect x="1271.5" y="472.2" width="23.25" height="23.2" fill="#f3f8fd"/><rect x="1294.75" y="472.2" width="23.25" height="23.2" fill="#08488e"/><rect x="1318" y="472.2" width="23.25" height="23.2" fill="#f3f8fd"/><rect x="1341.25" y="472.2" width="23.25" height="23.2" fill="#f3f8fd"/>
<rect x="1364.5" y="472.2" width="23.25" height="23.2" fill="#f3f8fd"/><rect x="1387.75" y="472.2" width="23.25" height="23.2" fill="#08478d"/><rect x="1411" y="472.2" width="23.25" height="23.2" fill="#f3f8fd"/><rect x="1434.25" y="472.2" width="23.25" height="23.2" fill="#f3f8fd"/>
<rect x="1178.5" y="495.3" width="23.25" height="23.2" fill="#f3f8fd"/><rect x="1201.75" y="495.3" width="23.25" height="23.2" fill="#f3f8fd"/><rect x="1225" y="495.3" width="23.25" height="23.2" fill="#1764ab"/><rect x="1248.25" y="495.3" width="23.25" height="23.2" fill="#e5eff9"/>
<rect x="1271.5" y="495.3" width="23.25" height="23.2" fill="#f3f8fd"/><rect x="1294.75" y="495.3" width="23.25" height="23.2" fill="#f3f8fd"/><rect x="1318" y="495.3" width="23.25" height="23.2" fill="#1562a9"/><rect x="1341.25" y="495.3" width="23.25" height="23.2" fill="#e5eff9"/>
<rect x="1364.5" y="495.3" width="23.25" height="23.2" fill="#eef5fc"/><rect x="1387.75" y="495.3" width="23.25" height="23.2" fill="#f3f8fd"/><rect x="1411" y="495.3" width="23.25" height="23.2" fill="#3787c0"/><rect x="1434.25" y="495.3" width="23.25" height="23.2" fill="#e5eff9"/>
<rect x="1178.5" y="518.5" width="23.25" height="23.2" fill="#f3f8fd"/><rect x="1201.75" y="518.5" width="23.25" height="23.2" fill="#f3f8fd"/><rect x="1225" y="518.5" width="23.25" height="23.2" fill="#e1edf8"/><rect x="1248.25" y="518.5" width="23.25" height="23.2" fill="#084d96"/>
<rect x="1271.5" y="518.5" width="23.25" height="23.2" fill="#f3f8fd"/><rect x="1294.75" y="518.5" width="23.25" height="23.2" fill="#f3f8fd"/><rect x="1318" y="518.5" width="23.25" height="23.2" fill="#e1edf8"/><rect x="1341.25" y="518.5" width="23.25" height="23.2" fill="#08468b"/>
<rect x="1364.5" y="518.5" width="23.25" height="23.2" fill="#eef5fc"/><rect x="1387.75" y="518.5" width="23.25" height="23.2" fill="#f3f8fd"/><rect x="1411" y="518.5" width="23.25" height="23.2" fill="#dbe9f6"/><rect x="1434.25" y="518.5" width="23.25" height="23.2" fill="#2b7bba"/>
<rect x="1178.5" y="449" width="278.5" height="92.7" fill="none" stroke="#333" stroke-width="0.7"/>
<line x1="1271.5" y1="449" x2="1271.5" y2="541.7" stroke="#000" stroke-width="0.8"/>
<line x1="1364.5" y1="449" x2="1364.5" y2="541.7" stroke="#000" stroke-width="0.8"/>
<g fill="#222">
<text x="1190.1" y="462.8" fill="#fff">.842</text><text x="1213.4" y="462.8">.015</text><text x="1236.6" y="462.8">.026</text><text x="1259.9" y="462.8">.020</text>
<text x="1283.1" y="462.8" fill="#fff">.809</text><text x="1306.4" y="462.8">.013</text><text x="1329.6" y="462.8">.025</text><text x="1352.9" y="462.8">.022</text>
<text x="1376.1" y="462.8" fill="#fff">.805</text><text x="1399.4" y="462.8">.012</text><text x="1422.6" y="462.8">.025</text><text x="1445.9" y="462.8">.021</text>
<text x="1190.1" y="486">.013</text><text x="1213.4" y="486" fill="#fff">.845</text><text x="1236.6" y="486">.011</text><text x="1259.9" y="486">.010</text>
<text x="1283.1" y="486">.011</text><text x="1306.4" y="486" fill="#fff">.836</text><text x="1329.6" y="486">.009</text><text x="1352.9" y="486">.009</text>
<text x="1376.1" y="486">.017</text><text x="1399.4" y="486" fill="#fff">.840</text><text x="1422.6" y="486">.012</text><text x="1445.9" y="486">.013</text>
<text x="1190.1" y="509.1">.024</text><text x="1213.4" y="509.1">.011</text><text x="1236.6" y="509.1" fill="#fff">.752</text><text x="1259.9" y="509.1">.068</text>
<text x="1283.1" y="509.1">.025</text><text x="1306.4" y="509.1">.011</text><text x="1329.6" y="509.1" fill="#fff">.765</text><text x="1352.9" y="509.1">.076</text>
<text x="1376.1" y="509.1">.037</text><text x="1399.4" y="509.1">.012</text><text x="1422.6" y="509.1" fill="#fff">.629</text><text x="1445.9" y="509.1">.069</text>
<text x="1190.1" y="532.3">.023</text><text x="1213.4" y="532.3">.012</text><text x="1236.6" y="532.3">.082</text><text x="1259.9" y="532.3" fill="#fff">.813</text>
<text x="1283.1" y="532.3">.024</text><text x="1306.4" y="532.3">.011</text><text x="1329.6" y="532.3">.082</text><text x="1352.9" y="532.3" fill="#fff">.843</text>
<text x="1376.1" y="532.3">.033</text><text x="1399.4" y="532.3">.013</text><text x="1422.6" y="532.3">.102</text><text x="1445.9" y="532.3" fill="#fff">.697</text>
</g>
<g font-size="5" fill="#222" text-anchor="end"><text x="1176" y="462.5">World</text><text x="1176" y="485.5">Sports</text><text x="1176" y="508.7">Business</text><text x="1176" y="531.8">Sci/Tech</text></g>
<text transform="translate(1153,495.8) rotate(-90)" font-size="6.5" fill="#222">Conditioning Topic</text>
<g font-size="4.8" fill="#222"><text x="1190.1" y="549">World</text><text x="1213.4" y="549">Sports</text><text x="1236.6" y="549">Business</text><text x="1259.9" y="549">Sci/Tech</text><text x="1283.1" y="549">World</text><text x="1306.4" y="549">Sports</text><text x="1329.6" y="549">Business</text><text x="1352.9" y="549">Sci/Tech</text><text x="1376.1" y="549">World</text><text x="1399.4" y="549">Sports</text><text x="1422.6" y="549">Business</text><text x="1445.9" y="549">Sci/Tech</text></g>
<text x="1317.8" y="555.5" font-size="6.5" fill="#222">Reference Topic</text>
<rect x="1474.4" y="443.75" width="6" height="104.25" fill="url(#cb)" stroke="#666" stroke-width="0.4"/>
<g font-size="5" fill="#222" text-anchor="start"><text x="1483" y="445.5">0.9</text><text x="1483" y="457">0.8</text><text x="1483" y="468.6">0.7</text><text x="1483" y="480.2">0.6</text><text x="1483" y="491.8">0.5</text><text x="1483" y="503.4">0.4</text><text x="1483" y="515">0.3</text><text x="1483" y="526.6">0.2</text><text x="1483" y="538.1">0.1</text><text x="1483" y="549.7">0.0</text></g>
<text transform="translate(1492,495.8) rotate(90)" font-size="5.5" fill="#222">MAUVE</text>
</g>

<!-- Seq2Seq -->
<g font-size="5.5" fill="#222">
<text x="1317.8" y="578" text-anchor="middle" font-size="11">Seq2Seq Generation</text>
<rect x="1131.7" y="582.5" width="380.8" height="8.5" fill="#fff" stroke="#ddd" stroke-width="0.5"/>
<rect x="1134" y="584.5" width="9" height="4" fill="#d62728"/><text x="1147.6" y="588.8">DiffuSeq [6]</text>
<rect x="1186.5" y="584.5" width="9" height="4" fill="#ff7f0e"/><text x="1201" y="588.8">RDM-abs [7]</text>
<rect x="1241.3" y="584.5" width="9" height="4" fill="#ffbb78"/><text x="1255" y="588.8">RDM-multi [7]</text>
<rect x="1300" y="584.5" width="9" height="4" fill="#2ca02c"/><text x="1313.4" y="588.8">LD4LG (FLAN-T5)</text>
<rect x="1364.8" y="584.5" width="9" height="4" fill="#98df8a"/><text x="1378.3" y="588.8">LD4LG (BART)</text>
<rect x="1423" y="584.5" width="9" height="4" fill="#1f77b4"/><text x="1436.9" y="588.8">FLAN-T5 [2]</text>
<rect x="1476" y="584.5" width="9" height="4" fill="#aec7e8"/><text x="1489.4" y="588.8">BART [3]</text>
<text x="1245.7" y="600.5" text-anchor="middle" font-size="7.5">Paraphrasing Evaluation (QQP)</text>
<rect x="1170.7" y="654.6" width="18.7" height="57.9" fill="#d62728"/>
<rect x="1189.4" y="638.8" width="18.8" height="73.7" fill="#ff7f0e"/>
<rect x="1208.2" y="638.8" width="18.7" height="73.7" fill="#ffbb78"/>
<rect x="1226.9" y="617.1" width="18.8" height="95.4" fill="#2ca02c"/>
<rect x="1245.7" y="615.2" width="18.7" height="97.3" fill="#98df8a"/>
<rect x="1283.7" y="615.2" width="18.8" height="97.3" fill="#1f77b4"/>
<rect x="1302.5" y="626.3" width="18.7" height="86.2" fill="#aec7e8"/>
<rect x="1162.9" y="602.7" width="165.8" height="109.8" fill="none" stroke="#555" stroke-width="0.6"/>
<g text-anchor="end" font-size="4.8"><text x="1160" y="714">80</text><text x="1160" y="698.3">81</text><text x="1160" y="682.6">82</text><text x="1160" y="667">83</text><text x="1160" y="651.3">84</text><text x="1160" y="635.6">85</text><text x="1160" y="620">86</text><text x="1160" y="604.3">87</text></g>
<text transform="translate(1152,657.7) rotate(-90)" text-anchor="middle" font-size="4.8">BERTScore</text>
<text x="1217.7" y="719" text-anchor="middle">Diffusion Language Models</text><text x="1301.9" y="719" text-anchor="middle">Fine-Tuned Language Models</text>
<text x="1420.2" y="600.5" text-anchor="middle" font-size="7.5">Summarization Evaluation (XSum)</text>
<rect x="1362.5" y="692.7" width="19.6" height="19.8" fill="#d62728"/>
<rect x="1382.1" y="611" width="19.3" height="101.5" fill="#2ca02c"/>
<rect x="1401.4" y="612.9" width="19.3" height="99.6" fill="#98df8a"/>
<rect x="1440.3" y="610.6" width="18.8" height="101.9" fill="#1f77b4"/>
<rect x="1459.1" y="609.6" width="19.3" height="102.9" fill="#aec7e8"/>
<rect x="1356.7" y="602.7" width="127.8" height="109.8" fill="none" stroke="#555" stroke-width="0.6"/>
<g text-anchor="end" font-size="4.8"><text x="1354" y="714">40</text><text x="1354" y="699.6">45</text><text x="1354" y="685.2">50</text><text x="1354" y="670.7">55</text><text x="1354" y="656.3">60</text><text x="1354" y="641.9">65</text><text x="1354" y="627.4">70</text><text x="1354" y="613">75</text></g>
<text transform="translate(1346,657.7) rotate(-90)" text-anchor="middle" font-size="4.8">BERTScore</text>
<text x="1391.3" y="719" text-anchor="middle" font-size="5">Diffusion Language Models</text><text x="1459.1" y="719" text-anchor="middle" font-size="5">Fine-Tuned Language Models</text>
</g>
<g font-size="7.3">
<text x="1123" y="739">[4] Radford, Alec, et al. "Language Models are Unsupervised Multitask Learners."</text>
<text x="1123" y="748" textLength="392" lengthAdjust="spacingAndGlyphs">[5] Li, Xiang, et al. "Diffusion-lm improves controllable text generation." Advances in Neural Information Processing Systems 35 (2022): 4328-4343.</text>
<text x="1123" y="757" textLength="415" lengthAdjust="spacingAndGlyphs">[6] Gong, Shansan, et al. "DiffuSeq: Sequence to Sequence Text Generation with Diffusion Models." The Eleventh International Conference on</text>
<text x="1123" y="765.5">Learning Representations. 2022.</text>
<text x="1123" y="774" textLength="370" lengthAdjust="spacingAndGlyphs">[7] Zheng, Lin, et al. "A reparameterized discrete diffusion model for text generation." arXiv preprint arXiv:2302.05737 (2023).</text>
</g>
</svg>
</body></html>
